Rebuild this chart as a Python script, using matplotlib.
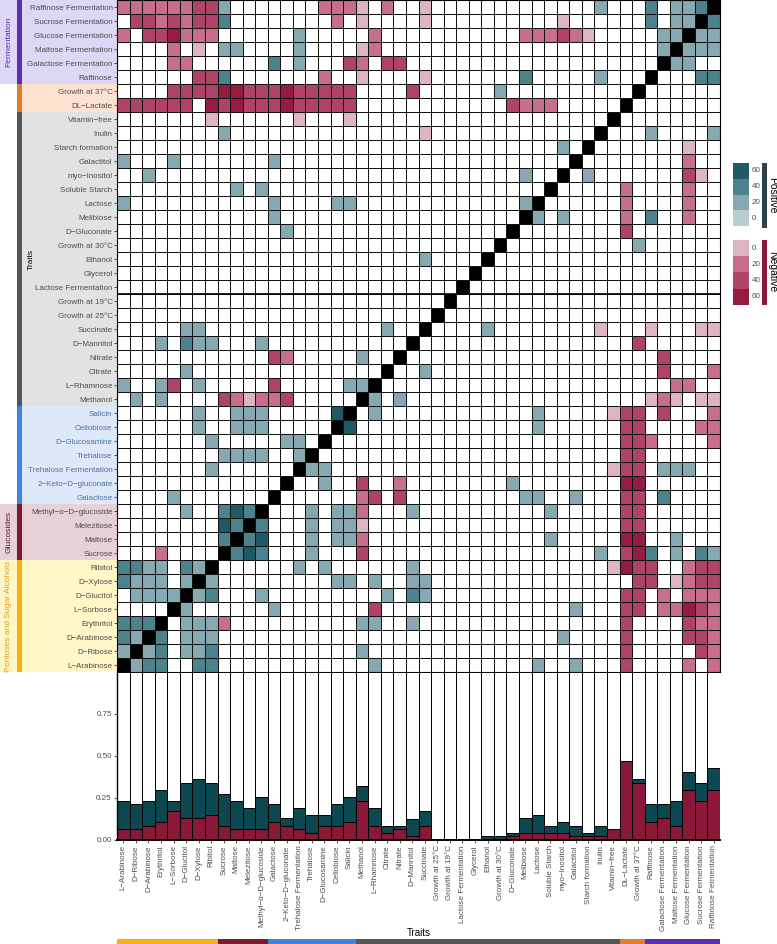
import matplotlib
matplotlib.use("Agg")
import matplotlib.pyplot as plt
import numpy as np
from matplotlib.patches import Rectangle
from matplotlib.colors import ListedColormap

plt.rcParams['font.family'] = ['Liberation Sans', 'DejaVu Sans']

# ---------------- data ----------------
traits = ["L−Arabinose", "D−Ribose", "D−Arabinose", "Erythritol", "L−Sorbose", "D−Glucitol",
          "D−Xylose", "Ribitol", "Sucrose", "Maltose", "Melezitose", "Methyl−α−D−glucoside",
          "Galactose", "2−Keto−D−gluconate", "Trehalose Fermentation", "Trehalose",
          "D−Glucosamine", "Cellobiose", "Salicin", "Methanol", "L−Rhamnose", "Citrate",
          "Nitrate", "D−Mannitol", "Succinate", "Growth at 25°C", "Growth at 19°C",
          "Lactose Fermentation", "Glycerol", "Ethanol", "Growth at 30°C", "D−Gluconate",
          "Melibiose", "Lactose", "Soluble Starch", "myo−Inositol", "Galactitol",
          "Starch formation", "Inulin", "Vitamin−free", "DL−Lactate", "Growth at 37°C",
          "Raffinose", "Galactose Fermentation", "Maltose Fermentation",
          "Glucose Fermentation", "Sucrose Fermentation", "Raffinose Fermentation"]

# association of each trait with the traits before it (lower triangle)
# '.' none, a-d positive (0,20,40,60), A-D negative (0,20,40,60)
assoc = [
    "",
    "b",
    "cb",
    "ccc",
    "....",
    ".bbbb",
    "cbbb.b",
    "ccbb.cb",
    "...B....",
    "........ c",
    "........ dc",
    ".....b.. cdc",
    "....b... ....",
    "........ .....",
    ".......b ......",
    "........ bbbb..b",
    ".......b .....bb.",
    "......b. .bbb.... .",
    "......b. .bbb.... .d",
    ".b.b.... CBABBC.. ...",
    "b..bC.b. ....C... ..bb",
    ".....b.. ........ .....",
    "........ ....CB.. ...b..",
    "...b.cbb ...b.... .......",
    ".....bb. ........ .....b..",
    "........ ........ ........ .",
    "........ ........ ........ ..",
    "........ ........ ........ ...",
    "........ ........ ........ ....",
    "........ ........ ........ b....",
    "........ ........ ........ ......",
    "........ .....b.. ........ .......",
    "........ ....b... ........ ........",
    "b....... ....b... .bb..... ........ b",
    "........ .b.b.... ........ ........ ..",
    "..b..... ........ ........ ........ b..",
    "b...b... ....b... ........ ........ ....",
    "........ ........ ........ ........ ...b.",
    "........ b....... ........ A....... ......",
    ".......A ......A. ..A..... ........ .......",
    "CCCCCC.D CDCCCDCC CCC..... .......C BBB.....",
    "....CCCC DDCCCDCC CCC....C ......b. ........ .",
    "......CC c....... B..A.... A....... c.....b. ..",
    "....BB.. ....c.b. ..CB.CC. ........ ........ ...",
    "....B.A. bb....b. ...AB... ........ ........ ...b",
    "B.CCDBBB ......b. ....B... ........ BBBCBA.. ...bb",
    ".CCBCBCC c....... .B.A.... A....... ...A.... ..c.bb",
    "BBBBBBCC b....... BBBA.B.. A....... ......b. ..c.bbc",
]

# share of traits with negative / positive association (bottom bars)
neg_frac = [0.064, 0.064, 0.085, 0.106, 0.170, 0.128, 0.128, 0.149, 0.085, 0.064, 0.064, 0.064,
            0.106, 0.085, 0.064, 0.043, 0.085, 0.085, 0.106, 0.234, 0.085, 0.043, 0.064, 0.021,
            0.085, 0.0, 0.0, 0.0, 0.0, 0.0, 0.0, 0.021, 0.043, 0.043, 0.043, 0.043, 0.021,
            0.021, 0.021, 0.064, 0.468, 0.340, 0.106, 0.128, 0.085, 0.298, 0.234, 0.298]
pos_frac = [0.170, 0.149, 0.149, 0.191, 0.064, 0.213, 0.234, 0.191, 0.191, 0.170, 0.128, 0.191,
            0.106, 0.043, 0.128, 0.106, 0.064, 0.128, 0.149, 0.085, 0.106, 0.043, 0.021, 0.106,
            0.085, 0.0, 0.0, 0.0, 0.0, 0.021, 0.021, 0.021, 0.085, 0.106, 0.043, 0.064, 0.064,
            0.021, 0.064, 0.0, 0.0, 0.021, 0.106, 0.085, 0.149, 0.106, 0.106, 0.128]

group_names = ["Pentoses and Sugar Alcohols", "Glucosides", "", "Traits", "", "Fermentation"]
group_sizes = [8, 4, 7, 21, 2, 6]
group_colors = ["#F4B312", "#7B1B30", "#3F83E0", "#555555", "#E27D2C", "#5B2EB6"]
group_light = ["#FFF7C8", "#E6D1D7", "#DDE8F8", "#E2E2E2", "#FDE3CF", "#DDD6F5"]
group_text = ["#E59A16", "#5E1A2A", "", "#000000", "", "#5B2EB6"]

legend_ticks = ["0", "20", "40", "60"]
pos_colors = ["#B8CCD1", "#86A9B1", "#4C828C", "#1C5A64"]
neg_colors = ["#DDB5C1", "#C76E8D", "#B0436A", "#971A41"]
bar_neg_color = "#8A1839"
bar_pos_color = "#0D4850"

# ---------------- matrix ----------------
n = len(traits)
code_map = {'.': 0, 'a': 1, 'b': 2, 'c': 3, 'd': 4, 'A': 5, 'B': 6, 'C': 7, 'D': 8}
M = np.zeros((n, n), dtype=int)
for v, s in enumerate(assoc):
    s = s.replace(" ", "").ljust(v, ".")
    for c in range(v):
        M[v, c] = code_map[s[c]]
        M[c, v] = code_map[s[c]]
for v in range(n):
    M[v, v] = 9
cmap = ListedColormap(["#FFFFFF"] + pos_colors + neg_colors + ["#000000"])

W, H = 777, 944
fig = plt.figure(figsize=(W / 100, H / 100), dpi=100)


def ax_px(x0, y0, x1, y1, **kw):
    return fig.add_axes([x0 / W, 1 - y1 / H, (x1 - x0) / W, (y1 - y0) / H], **kw)


bg = fig.add_axes([0, 0, 1, 1], zorder=-1)
bg.set_xlim(0, W)
bg.set_ylim(H, 0)
bg.axis('off')

HL, HR, HT, HB = 117, 720, 0, 672
rowh = (HB - HT) / n

ax = ax_px(HL, HT, HR, HB)
ax.pcolormesh(np.arange(n + 1), np.arange(n + 1), M, cmap=cmap, vmin=-0.5, vmax=9.5,
              edgecolors="#111111", linewidth=0.7)
ax.axhline(27, color="black", lw=1.2)
ax.set_xlim(0, n)
ax.set_ylim(0, n)
ax.set_xticks([])
ax.set_yticks(np.arange(n) + 0.5)
ax.set_yticklabels(traits, fontsize=5.8)
ax.tick_params(axis='y', length=2.2, width=0.6, pad=1, color="#333333")
for v, lab in enumerate(ax.get_yticklabels()):
    lab.set_color("#4A72A8" if 12 <= v <= 18 else "#4D4D4D")
for sp in ax.spines.values():
    sp.set_linewidth(0.8)

# ---------------- bars ----------------
axb = ax_px(HL, HB, HR, 840)
x = np.arange(n) + 0.5
neg = np.array(neg_frac)
pos = np.array(pos_frac)
axb.bar(x, neg, width=1, color=bar_neg_color, edgecolor="black", linewidth=0.7)
axb.bar(x, pos, bottom=neg, width=1, color=bar_pos_color, edgecolor="black", linewidth=0.7)
axb.bar(x, 1 - neg - pos, bottom=neg + pos, width=1, color="white", edgecolor="black", linewidth=0.7)
axb.set_xlim(0, n)
axb.set_ylim(0, 1)
axb.set_yticks([0, 0.25, 0.5, 0.75])
axb.set_yticklabels(["0.00", "0.25", "0.50", "0.75"], fontsize=5.8, color="#4D4D4D")
axb.set_xticks(x)
axb.set_xticklabels(traits, rotation=90, fontsize=5.8, color="#4D4D4D")
axb.tick_params(length=2.2, width=0.6, pad=1.5, color="#333333")
for s in ["top", "right"]:
    axb.spines[s].set_visible(False)
axb.spines["left"].set_linewidth(1.0)
axb.spines["bottom"].set_linewidth(1.4)
fig.text((HL + HR) / 2 / W, 1 - 933 / H, "Traits", ha="center", va="center", fontsize=7)

# ---------------- group annotations ----------------
cw = (HR - HL) / n
start = 0
for name, size, col, light, tcol in zip(group_names, group_sizes, group_colors, group_light, group_text):
    y_top = HB - (start + size) * rowh
    y_bot = HB - start * rowh
    outside = name not in ("", "Traits")
    x0 = 0 if outside else 17
    bg.add_patch(Rectangle((x0, y_top), HL - x0, size * rowh, color=light, lw=0))
    bg.add_patch(Rectangle((17, y_top), 5, size * rowh, color=col, lw=0))
    if name:
        tx = 9 if outside else 31
        bg.text(tx, (y_top + y_bot) / 2, name, rotation=90, ha="center", va="center",
                fontsize=6.1, color=tcol)
    # bottom strip
    bg.add_patch(Rectangle((HL + start * cw, 939), size * cw, 5, color=col, lw=0))
    start += size

# ---------------- legend ----------------
lx0, lx1 = 733, 749
pos_y = [210, 195, 179, 163]
for i, (t, c) in enumerate(zip(legend_ticks, pos_colors)):
    y0 = pos_y[i]
    bg.add_patch(Rectangle((lx0, y0), lx1 - lx0, 16 if i != 1 else 15, color=c, lw=0))
    bg.text(752, y0 + 8, t, fontsize=5.8, color="#4D4D4D", va="center", ha="left")
neg_y = [240, 256, 272, 288.5]
for i, (t, c) in enumerate(zip(legend_ticks, neg_colors)):
    y0 = neg_y[i]
    bg.add_patch(Rectangle((lx0, y0), lx1 - lx0, 16.5, color=c, lw=0))
    bg.text(752, y0 + 8.5, t, fontsize=5.8, color="#4D4D4D", va="center", ha="left")
bg.add_patch(Rectangle((762, 163), 5, 65, color="#2F4347", lw=0))
bg.add_patch(Rectangle((762, 240), 5, 65, color="#8A1839", lw=0))
bg.text(772, 195, "Positive", rotation=270, ha="center", va="center", fontsize=7.5)
bg.text(772, 272, "Negative", rotation=270, ha="center", va="center", fontsize=7.5)

fig.savefig("out.png", dpi=100)
